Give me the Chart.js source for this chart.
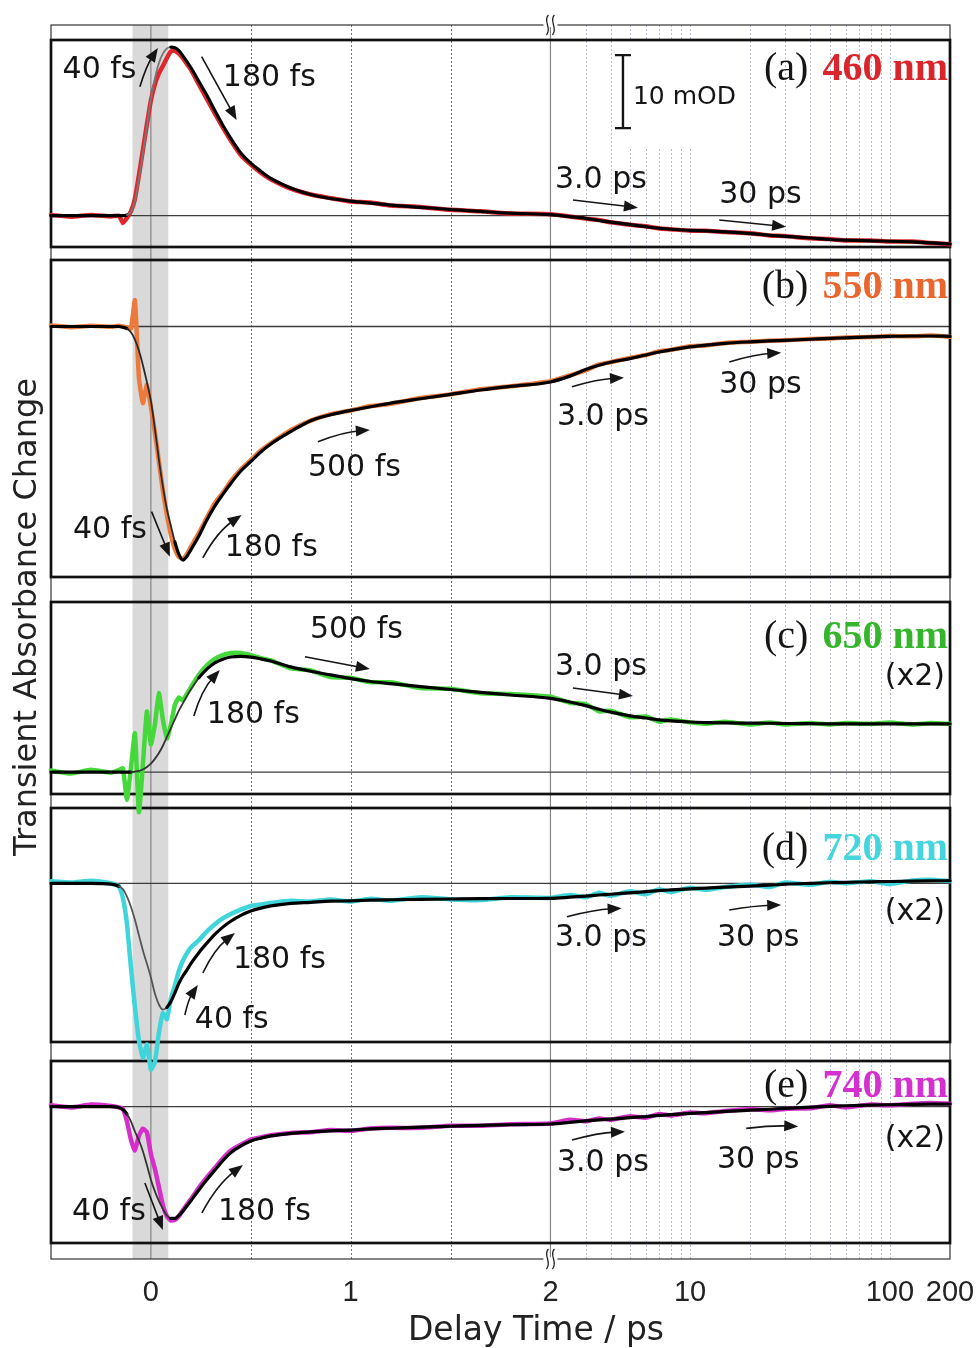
<!DOCTYPE html>
<html>
<head>
<meta charset="utf-8">
<script src="https://cdn.jsdelivr.net/npm/chart.js@4/dist/chart.umd.min.js"></script>
<style>
  html, body { margin: 0; padding: 0; background: #fff; }
  #wrap { position: relative; width: 977px; height: 1348px; }
</style>
</head>
<body>
<div id="wrap"><canvas id="chart" width="977" height="1348"></canvas></div>
<script>
// Pump-probe delay times (ps), shared by every trace
const delayTimes = [-0.5,-0.4,-0.3,-0.2,-0.16,-0.14,-0.12,-0.1,-0.08,-0.06,-0.04,-0.02,0,
  0.02,0.04,0.06,0.08,0.1,0.12,0.14,0.16,0.18,0.2,0.24,0.28,0.32,0.36,0.4,0.45,0.5,0.55,0.6,
  0.7,0.8,0.9,1.0,1.1,1.2,1.35,1.5,1.65,1.8,2.0,
  2.5,3,3.5,4,5,6,7,8,10,12,15,20,25,30,40,50,60,80,100,130,160,200];

// 460 nm (mOD)
const trace460 = [0.1,-0.15,0.1,-0.1,0.0,-1.0,-0.3,0.6,2.3,5.5,9.0,12.5,15.8,
  18.0,19.5,20.5,21.6,22.5,22.6,22.2,21.6,20.8,20.0,18.0,16.0,14.0,12.1,10.3,8.3,7.0,5.9,5.0,
  3.7,2.9,2.4,1.95,1.8,1.4,1.2,0.8,0.6,0.3,0.2,
  -0.1,-0.4,-0.6,-0.9,-1.25,-1.45,-1.75,-1.85,-2.05,-2.05,-2.25,-2.4,-2.7,-2.8,-3.1,-3.2,-3.4,-3.4,-3.55,-3.55,-3.75,-3.9];
const fit460 = [0,0,0,0,0,0,0.1,0.5,2.0,5.0,8.5,12.3,16.0,
  18.8,20.9,22.2,22.9,23.1,23.0,22.6,21.9,21.1,20.3,18.4,16.5,14.4,12.4,10.6,8.6,7.2,6.1,5.1,
  3.8,2.9,2.35,2.0,1.72,1.45,1.15,0.85,0.58,0.34,0.14,
  -0.12,-0.36,-0.66,-0.88,-1.22,-1.5,-1.72,-1.86,-2.0,-2.08,-2.22,-2.45,-2.68,-2.84,-3.06,-3.26,-3.35,-3.44,-3.5,-3.6,-3.72,-3.88];

// 550 nm (mOD)
const trace550 = [0.15,-0.1,0.1,-0.05,0.1,0.0,-0.1,-0.3,3.6,-7.0,-10.5,-8.0,-11.0,
  -14.5,-18.5,-22.5,-25.8,-28.5,-30.5,-31.6,-31.8,-31.2,-30.2,-28.3,-26.2,-24.2,-22.8,-21.2,-19.6,-18.3,-17.0,-16.0,
  -14.2,-12.9,-12.0,-11.5,-10.9,-10.6,-9.8,-9.3,-8.6,-8.2,-7.5,
  -6.7,-6.0,-5.2,-4.9,-4.3,-3.9,-3.4,-3.2,-2.7,-2.6,-2.25,-2.1,-1.95,-1.9,-1.7,-1.65,-1.5,-1.45,-1.3,-1.35,-1.25,-1.4];
const fit550 = [0,0,0,0,0,-0.1,-0.3,-0.8,-1.8,-3.3,-5.3,-7.6,-10.2,
  -14.0,-18.2,-21.9,-25.0,-27.3,-29.5,-31.2,-32.0,-31.5,-30.6,-28.7,-26.5,-24.6,-23.0,-21.5,-19.8,-18.5,-17.2,-16.1,
  -14.4,-12.9,-12.1,-11.5,-11.0,-10.5,-9.9,-9.3,-8.7,-8.2,-7.6,
  -6.8,-5.9,-5.3,-4.9,-4.4,-3.9,-3.5,-3.2,-2.8,-2.55,-2.3,-2.1,-1.98,-1.9,-1.75,-1.62,-1.55,-1.42,-1.35,-1.3,-1.3,-1.35];

// 650 nm (mOD, shown x2)
const trace650 = [0.2,-0.2,0.3,-0.1,0.3,0.5,-3.8,0.5,5.3,-5.5,1.0,8.3,3.8,
  6.5,10.8,7.2,4.6,6.5,9.2,10.2,9.8,10.7,11.6,13.3,14.6,15.5,16.0,16.3,16.3,16.0,15.6,15.3,
  14.2,13.9,13.0,12.9,12.3,12.3,11.5,11.4,10.8,10.7,10.3,
  9.5,9.3,8.3,8.4,7.5,7.6,6.9,7.2,6.8,6.6,6.9,6.5,6.8,6.5,6.7,6.5,6.7,6.6,6.8,6.5,6.7,6.6];
const fit650 = [0,0,0,0,0,0,0,0,0.05,0.15,0.35,0.7,1.15,
  1.8,2.6,3.6,4.8,6.0,7.2,8.4,9.4,10.4,11.3,12.9,14.1,14.95,15.45,15.75,15.85,15.75,15.5,15.2,
  14.4,13.8,13.3,12.8,12.4,12.1,11.7,11.3,10.9,10.55,10.1,
  9.6,9.1,8.6,8.2,7.7,7.4,7.15,7.0,6.85,6.78,6.72,6.7,6.68,6.65,6.62,6.6,6.6,6.6,6.6,6.6,6.6,6.6];

// 720 nm (mOD, shown x2)
const trace720 = [0.3,0.1,0.35,0.0,-0.4,-2.0,-5.5,-11.5,-16.9,-21.5,-23.9,-22.1,-25.5,
  -24.5,-20.5,-17.8,-18.6,-15.8,-14.0,-12.0,-10.6,-9.6,-8.8,-7.8,-6.6,-5.6,-4.8,-4.2,-3.6,-3.1,-2.9,-2.7,
  -2.4,-2.5,-2.2,-2.5,-2.1,-2.4,-1.9,-2.2,-2.3,-1.9,-2.0,
  -1.6,-1.9,-1.3,-1.7,-1.1,-1.5,-0.8,-1.2,-0.6,-0.9,-0.5,-0.2,-0.5,0.1,-0.2,0.2,0.0,0.3,-0.1,0.4,0.5,0.3];
const fit720 = [0,0,0,-0.1,-0.4,-0.8,-1.8,-3.2,-5.0,-7.1,-9.2,-11.0,-12.9,
  -15.1,-16.6,-17.3,-17.0,-16.2,-15.0,-13.7,-12.7,-11.9,-11.0,-9.5,-8.2,-7.0,-6.0,-5.2,-4.4,-3.8,-3.4,-3.1,
  -2.75,-2.6,-2.45,-2.4,-2.3,-2.25,-2.2,-2.15,-2.1,-2.08,-2.05,
  -1.9,-1.75,-1.6,-1.5,-1.3,-1.15,-1.0,-0.9,-0.75,-0.65,-0.52,-0.38,-0.25,-0.12,0.0,0.08,0.14,0.2,0.25,0.3,0.33,0.36];

// 740 nm (mOD, shown x2)
const trace740 = [0.2,-0.1,0.3,0.1,-0.1,-0.3,-2.0,-4.5,-6.0,-4.0,-3.0,-3.5,-6.5,
  -8.5,-11.0,-13.5,-15.0,-15.6,-15.5,-15.0,-14.2,-13.4,-12.7,-11.1,-9.7,-8.4,-7.1,-6.0,-5.2,-4.5,-4.2,-3.9,
  -3.6,-3.5,-3.2,-3.3,-3.0,-2.9,-2.9,-2.6,-2.6,-2.4,-2.3,
  -1.8,-2.0,-1.6,-1.8,-1.3,-1.5,-1.0,-1.2,-0.8,-0.9,-0.6,-0.3,-0.5,-0.3,-0.2,0.2,-0.1,0.3,0.2,0.4,0.5,0.4];
const fit740 = [0,0,0,0,-0.1,-0.4,-1.0,-2.0,-3.4,-4.6,-6.1,-8.0,-10.0,
  -11.6,-12.9,-14.0,-14.9,-15.3,-15.3,-14.9,-14.3,-13.6,-12.9,-11.4,-10.0,-8.7,-7.4,-6.3,-5.4,-4.7,-4.3,-4.0,
  -3.65,-3.45,-3.3,-3.2,-3.05,-2.95,-2.8,-2.68,-2.55,-2.47,-2.37,
  -2.15,-1.95,-1.8,-1.7,-1.5,-1.35,-1.2,-1.08,-0.92,-0.8,-0.65,-0.48,-0.35,-0.22,-0.05,0.05,0.13,0.22,0.27,0.32,0.35,0.37];

// Axis labels and guide positions (ps)
const tickTimes = [0, 1, 2, 10, 100, 200];
const linearGridTimes = [0.5, 1, 1.5];
const logGridTimes = [3,4,5,6,7,8,9,10,20,30,40,50,60,70,80,90,100];
const pumpWindow = [-0.092, 0.087];

// Delay axis: linear up to 2 ps, logarithmic beyond (one decade = one unit)
const BREAK = 2;
const toAxis = t => (t <= BREAK ? t : BREAK + Math.log10(t / BREAK));

const panels = [
  { id: 'a', tag: '(a)', wl: '460 nm', trace: trace460, fit: fit460, line: '#e2272c', text: '#d9252b',
    range: [-4.29, 24.07], pulse: [-0.12, 0.1], pulseColor: '#777', labelV: 18.59 },
  { id: 'b', tag: '(b)', wl: '550 nm', trace: trace550, fit: fit550, line: '#ec7a3c', text: '#e9672f',
    range: [-34.32, 9.11], pulse: [-0.12, 0.12], pulseColor: '#2a2a2a', labelV: 3.86 },
  { id: 'c', tag: '(c)', wl: '650 nm', trace: trace650, fit: fit650, line: '#45d83a', text: '#34b52c',
    range: [-3.01, 23.29], pulse: [-0.1, 0.24], pulseColor: '#333', labelV: 16.95, x2V: 11.92 },
  { id: 'd', tag: '(d)', wl: '720 nm', trace: trace720, fit: fit720, line: '#3fd5da', text: '#46d5dc',
    range: [-21.74, 10.32], pulse: [-0.16, 0.08], pulseColor: '#555', labelV: 3.19, x2V: -5.01 },
  { id: 'e', tag: '(e)', wl: '740 nm', trace: trace740, fit: fit740, line: '#d62fc9', text: '#d42fcf',
    range: [-18.67, 6.26], pulse: [-0.12, 0.1], pulseColor: '#333', labelV: 1.37, x2V: -5.48 }
];

// Vertical stack of panels and the gaps between them (heights in px)
const stackOrder = [['gapTop', 15], ['a', 207], ['gapAB', 13], ['b', 317], ['gapBC', 25], ['c', 192],
  ['gapCD', 14], ['d', 234], ['gapDE', 19], ['e', 182], ['gapBottom', 16]];

// Time-constant labels and arrows, in axis units (delay axis, panel value)
const notes = [
  { p: 'a', t: '40 fs', u: -0.442, v: 19.96 }, { p: 'a', t: '180 fs', u: 0.36, v: 18.86 },
  { p: 'a', t: '3.0 ps', u: 2.0225, v: 4.89 }, { p: 'a', t: '30 ps', u: 2.845, v: 2.84 },
  { p: 'b', t: '40 fs', u: -0.39, v: -27.88 }, { p: 'b', t: '180 fs', u: 0.37, v: -30.34 },
  { p: 'b', t: '500 fs', u: 0.786, v: -19.38 }, { p: 'b', t: '3.0 ps', u: 2.0325, v: -12.4 },
  { p: 'b', t: '30 ps', u: 2.845, v: -8.01 },
  { p: 'c', t: '180 fs', u: 0.28, v: 7.81 }, { p: 'c', t: '500 fs', u: 0.796, v: 19.45 },
  { p: 'c', t: '3.0 ps', u: 2.0225, v: 14.38 },
  { p: 'd', t: '180 fs', u: 0.4105, v: -10.51 }, { p: 'd', t: '40 fs', u: 0.22, v: -18.73 },
  { p: 'd', t: '3.0 ps', u: 2.0225, v: -7.49 }, { p: 'd', t: '30 ps', u: 2.8335, v: -7.49 },
  { p: 'e', t: '40 fs', u: -0.3955, v: -14.42 }, { p: 'e', t: '180 fs', u: 0.3354, v: -14.42 },
  { p: 'e', t: '3.0 ps', u: 2.0325, v: -7.71 }, { p: 'e', t: '30 ps', u: 2.8335, v: -7.3 }
];
const arrows = [
  { p: 'a', u1: -0.055, v1: 17.67, u2: 0.035, v2: 22.97, bend: 3 },
  { p: 'a', u1: 0.254, v1: 21.78, u2: 0.429, v2: 13.11, bend: 0 },
  { p: 'a', u1: 2.1126, v1: 2.15, u2: 2.438, v2: 1.1, bend: 0 },
  { p: 'a', u1: 2.845, v1: -0.59, u2: 3.1795, v2: -1.51, bend: 0 },
  { p: 'b', u1: 0.0035, v1: -25.37, u2: 0.0951, v2: -31.53, bend: 0 },
  { p: 'b', u1: 0.26, v1: -31.71, u2: 0.454, v2: -25.82, bend: 7 },
  { p: 'b', u1: 0.836, v1: -15.78, u2: 1.096, v2: -14.18, bend: 4 },
  { p: 'b', u1: 2.1076, v1: -8.25, u2: 2.368, v2: -7.01, bend: 3 },
  { p: 'b', u1: 2.895, v1: -4.86, u2: 3.155, v2: -3.59, bend: 3 },
  { p: 'c', u1: 0.215, v1: 7.67, u2: 0.345, v2: 13.97, bend: 6 },
  { p: 'c', u1: 0.771, v1: 15.79, u2: 1.096, v2: 14.11, bend: 0 },
  { p: 'c', u1: 2.1126, v1: 11.51, u2: 2.413, v2: 10.41, bend: 0 },
  { p: 'd', u1: 0.26, v1: -12.29, u2: 0.4205, v2: -6.81, bend: 6 },
  { p: 'd', u1: 0.17, v1: -18.04, u2: 0.235, v2: -13.93, bend: 3 },
  { p: 'd', u1: 2.0826, v1: -4.58, u2: 2.3564, v2: -3.42, bend: 3 },
  { p: 'd', u1: 2.895, v1: -3.66, u2: 3.155, v2: -2.97, bend: 2 },
  { p: 'e', u1: -0.03, v1: -10.45, u2: 0.06, v2: -16.89, bend: 0 },
  { p: 'e', u1: 0.2553, v1: -14.56, u2: 0.4606, v2: -7.99, bend: 7 },
  { p: 'e', u1: 2.1076, v1: -4.56, u2: 2.373, v2: -3.42, bend: 3 },
  { p: 'e', u1: 2.98, v1: -2.97, u2: 3.2403, v2: -2.7, bend: 2 }
];

// 10 mOD scale bar in panel (a)
const scaleBar = { p: 'a', u: 2.363, v1: 12, v2: 22, textU: 2.413, textV: 16.26, clearU: [2.338, 2.974], clearV: 9.27 };

const SANS = '"DejaVu Sans", sans-serif';

// ---- scales ----
const scales = {
  x: {
    type: 'linear', position: 'bottom', min: -0.5, max: 4,
    grid: { display: false, drawTicks: false }, border: { display: false },
    afterBuildTicks: s => { s.ticks = tickTimes.map(t => ({ value: toAxis(t) })); },
    afterFit: s => { s.height = 89; s.paddingLeft = 0; s.paddingRight = 0; },
    ticks: {
      autoSkip: false, maxRotation: 0, minRotation: 0, padding: 17, color: '#222',
      font: { family: '"Liberation Sans", sans-serif', size: 29 },
      callback: (val, i) => String(tickTimes[i])
    }
  }
};
stackOrder.forEach(([id, h], i) => {
  const p = panels.find(q => q.id === id);
  scales[id] = {
    type: 'linear', position: 'left', display: false, stack: 'panels', stackWeight: h,
    weight: stackOrder.length - i,
    min: p ? p.range[0] : 0, max: p ? p.range[1] : 1
  };
});

// ---- datasets ----
const datasets = [];
panels.forEach(p => {
  const lo = toAxis(p.pulse[0]) - 1e-9, hi = toAxis(p.pulse[1]) + 1e-9;
  const inPulse = c => c.p0.parsed.x >= lo && c.p1.parsed.x <= hi;
  datasets.push({
    label: p.wl + ' fit', yAxisID: p.id, order: 1, clip: false,
    data: p.fit.map((v, i) => ({ x: toAxis(delayTimes[i]), y: v })),
    borderColor: '#000', borderWidth: 3.2, pointRadius: 0, cubicInterpolationMode: 'monotone',
    segment: {
      borderColor: c => (inPulse(c) ? p.pulseColor : '#000'),
      borderWidth: c => (inPulse(c) ? 1.8 : 3.2)
    }
  });
  datasets.push({
    label: p.wl, yAxisID: p.id, order: 2, clip: false,
    data: p.trace.map((v, i) => ({ x: toAxis(delayTimes[i]), y: v })),
    borderColor: p.line, borderWidth: 4.5, pointRadius: 0, tension: 0.15
  });
});

// ---- drawing helpers ----
function vline(ctx, x, top, bottom) {
  ctx.beginPath(); ctx.moveTo(x, top); ctx.lineTo(x, bottom); ctx.stroke();
}
function drawArrow(ctx, x1, y1, x2, y2, bend) {
  const dx = x2 - x1, dy = y2 - y1, L = Math.hypot(dx, dy);
  const cx = (x1 + x2) / 2 + (dy / L) * bend, cy = (y1 + y2) / 2 - (dx / L) * bend;
  const ang = Math.atan2(y2 - cy, x2 - cx);
  const hl = 14, hw = 5.5;
  const bx = x2 - hl * Math.cos(ang), by = y2 - hl * Math.sin(ang);
  ctx.beginPath(); ctx.moveTo(x1, y1); ctx.quadraticCurveTo(cx, cy, bx + 0.3 * (x2 - bx), by + 0.3 * (y2 - by)); ctx.stroke();
  ctx.beginPath();
  ctx.moveTo(x2, y2);
  ctx.lineTo(bx - hw * Math.sin(ang), by + hw * Math.cos(ang));
  ctx.lineTo(bx + hw * Math.sin(ang), by - hw * Math.cos(ang));
  ctx.closePath(); ctx.fill();
}
function breakMark(ctx, xc, yc) {
  ctx.fillStyle = '#fff'; ctx.fillRect(xc - 7, yc - 2, 14, 4);
  ctx.strokeStyle = '#222'; ctx.lineWidth = 1.3;
  [-3, 3].forEach(d => {
    ctx.beginPath();
    ctx.moveTo(xc + d + 1, yc - 10);
    ctx.bezierCurveTo(xc + d - 5, yc - 4, xc + d + 5, yc + 3, xc + d - 1, yc + 10);
    ctx.stroke();
  });
}

const decor = {
  id: 'decor',
  beforeDatasetsDraw(chart) {
    const { ctx, chartArea: ca, scales: s } = chart;
    const X = t => s.x.getPixelForValue(toAxis(t));
    ctx.save();
    // pump-probe overlap window
    ctx.fillStyle = '#d9d9d9';
    ctx.fillRect(X(pumpWindow[0]), ca.top, X(pumpWindow[1]) - X(pumpWindow[0]), ca.bottom - ca.top);
    // dotted guides
    ctx.lineWidth = 1;
    ctx.setLineDash([2, 2]);
    ctx.strokeStyle = '#6670b4';
    linearGridTimes.forEach(t => vline(ctx, Math.round(X(t)) + 0.5, ca.top, ca.bottom));
    ctx.strokeStyle = '#b7bbd2';
    logGridTimes.forEach(t => vline(ctx, Math.round(X(t)) + 0.5, ca.top, ca.bottom));
    ctx.setLineDash([]);
    // clear area behind the scale bar
    const sa = s[scaleBar.p];
    const cl = s.x.getPixelForValue(scaleBar.clearU[0]), cr = s.x.getPixelForValue(scaleBar.clearU[1]);
    ctx.fillStyle = '#fff';
    ctx.fillRect(cl, sa.top, cr - cl, sa.getPixelForValue(scaleBar.clearV) - sa.top);
    // solid guides at 0 and at the axis break
    ctx.strokeStyle = '#858585'; ctx.lineWidth = 1.2;
    [0, BREAK].forEach(t => vline(ctx, X(t), ca.top, ca.bottom));
    // outer frame
    ctx.strokeStyle = '#333'; ctx.lineWidth = 1.2;
    ctx.strokeRect(ca.left, ca.top, ca.right - ca.left, ca.bottom - ca.top);
    // panel zero lines and frames
    panels.forEach(p => {
      const y = s[p.id];
      const y0 = y.getPixelForValue(0);
      ctx.strokeStyle = '#3c3c3c'; ctx.lineWidth = 1.3;
      ctx.beginPath(); ctx.moveTo(ca.left, y0); ctx.lineTo(ca.right, y0); ctx.stroke();
      ctx.strokeStyle = '#111'; ctx.lineWidth = 2.7;
      ctx.strokeRect(ca.left, y.top, ca.right - ca.left, y.bottom - y.top);
    });
    ctx.restore();
  },
  afterDatasetsDraw(chart) {
    const { ctx, chartArea: ca, scales: s } = chart;
    const px = u => s.x.getPixelForValue(u);
    ctx.save();
    // axis break marks
    breakMark(ctx, px(toAxis(BREAK)), ca.top);
    breakMark(ctx, px(toAxis(BREAK)), ca.bottom);
    // time-constant labels
    ctx.fillStyle = '#151515';
    ctx.font = '30px ' + SANS;
    ctx.textAlign = 'left'; ctx.textBaseline = 'middle';
    notes.forEach(n => ctx.fillText(n.t, px(n.u), s[n.p].getPixelForValue(n.v)));
    // arrows
    ctx.strokeStyle = '#151515'; ctx.lineWidth = 1.6;
    arrows.forEach(a => {
      const y = s[a.p];
      drawArrow(ctx, px(a.u1), y.getPixelForValue(a.v1), px(a.u2), y.getPixelForValue(a.v2), a.bend);
    });
    // scale bar
    const sb = s[scaleBar.p];
    const bx = px(scaleBar.u), by1 = sb.getPixelForValue(scaleBar.v1), by2 = sb.getPixelForValue(scaleBar.v2);
    ctx.lineWidth = 2.4; ctx.strokeStyle = '#151515';
    ctx.beginPath();
    ctx.moveTo(bx, by1); ctx.lineTo(bx, by2);
    ctx.moveTo(bx - 8, by1); ctx.lineTo(bx + 8, by1);
    ctx.moveTo(bx - 8, by2); ctx.lineTo(bx + 8, by2);
    ctx.stroke();
    ctx.font = '25px ' + SANS;
    ctx.fillText('10 mOD', px(scaleBar.textU), sb.getPixelForValue(scaleBar.textV));
    // panel labels
    const xr = px(3.99);
    panels.forEach(p => {
      const y = s[p.id];
      const yb = y.getPixelForValue(p.labelV);
      ctx.textBaseline = 'alphabetic'; ctx.textAlign = 'right';
      ctx.font = 'bold 40px "Liberation Serif", serif';
      const w = ctx.measureText(p.wl).width;
      ctx.fillStyle = p.text; ctx.fillText(p.wl, xr, yb);
      ctx.font = '40px "Liberation Serif", serif';
      ctx.fillStyle = '#151515'; ctx.fillText(p.tag, xr - w - 14, yb);
      if (p.x2V !== undefined) {
        ctx.font = '30px ' + SANS;
        ctx.fillText('(x2)', px(3.975), y.getPixelForValue(p.x2V));
      }
    });
    // axis titles
    ctx.fillStyle = '#222';
    ctx.textAlign = 'center'; ctx.textBaseline = 'middle';
    ctx.font = '33px ' + SANS;
    ctx.fillText('Delay Time / ps', 536, 1331);
    ctx.translate(28, 617); ctx.rotate(-Math.PI / 2);
    ctx.font = '32px ' + SANS;
    ctx.fillText('Transient Absorbance Change', 0, 0);
    ctx.restore();
  }
};

new Chart(document.getElementById('chart'), {
  type: 'line',
  data: { datasets },
  plugins: [decor],
  options: {
    responsive: false, animation: false, devicePixelRatio: 1, events: [],
    layout: { padding: { left: 51, right: 27, top: 25, bottom: 0 } },
    plugins: { legend: { display: false }, tooltip: { enabled: false } },
    elements: { line: { borderCapStyle: 'round', borderJoinStyle: 'round' } },
    scales
  }
});
</script>
</body>
</html>
